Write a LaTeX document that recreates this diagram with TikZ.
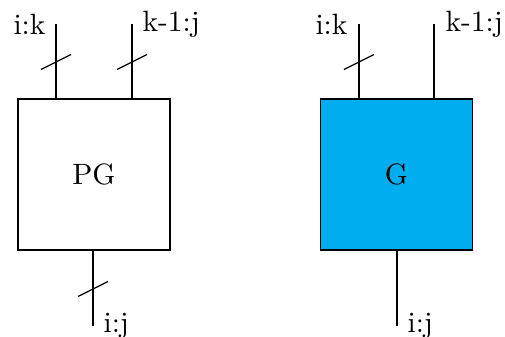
\documentclass[tikz,border=0pt]{standalone}
\usetikzlibrary{positioning,calc}
\definecolor{gfill}{RGB}{0,174,239}
\tikzset{
  cell/.style={draw, line width=0.4pt, minimum width=152*0.34pt, minimum height=151*0.34pt, inner sep=0pt},
  wire/.style={line width=0.4pt},
  lbl/.style={inner sep=0pt},
  bustick/.pic={\draw[line width=0.4pt] (-15,7.5) -- (15,-7.5);}
}
\begin{document}
\begin{tikzpicture}[x=0.34pt,y=-0.34pt]
\useasboundingbox (0,0) rectangle (505,337);

% propagate/generate cell
\node[cell] (pg) at (94,174.5) {PG};
\coordinate (pgA) at (56,24);
\coordinate (pgB) at (132,24);
\coordinate (pgO) at (93,326);
\draw[wire] (pgA) -- (pgA |- pg.north);
\draw[wire] (pgB) -- (pgB |- pg.north);
\draw[wire] (pgO |- pg.south) -- (pgO);
\pic at (56,62) {bustick};
\pic at (132,62) {bustick};
\pic at (93,289) {bustick};
\node[lbl, anchor=base east] (pgAl) at (46,35) {i:k};
\node[lbl, anchor=base west] (pgBl) at (142,32) {k-1:j};
\node[lbl, anchor=base west] (pgOl) at (103,333) {i:j};

% generate cell
\node[cell, fill=gfill] (g) at (396.5,174.5) {G};
\coordinate (gA) at (359,24);
\coordinate (gB) at (434,24);
\coordinate (gO) at (397,326);
\draw[wire] (gA) -- (gA |- g.north);
\draw[wire] (gB) -- (gB |- g.north);
\draw[wire] (gO |- g.south) -- (gO);
\pic at (359,62) {bustick};
\node[lbl, anchor=base east] (gAl) at (348,35) {i:k};
\node[lbl, anchor=base west] (gBl) at (445,32) {k-1:j};
\node[lbl, anchor=base west] (gOl) at (407,333) {i:j};
\end{tikzpicture}
\end{document}
